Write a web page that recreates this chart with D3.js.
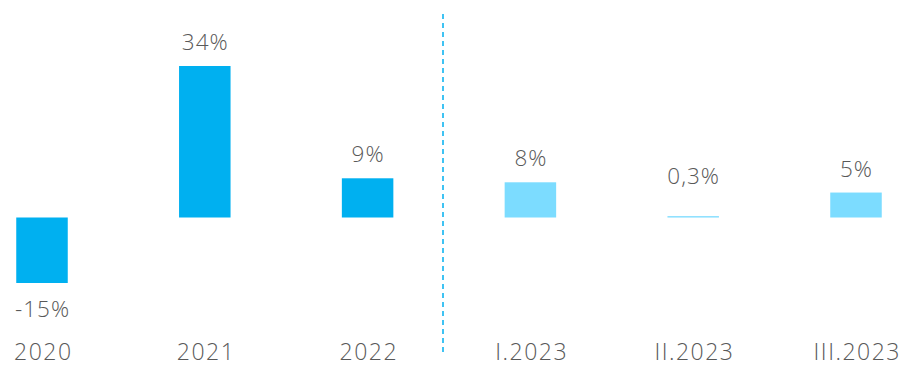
<!DOCTYPE html>
<html>
<head>
<meta charset="utf-8">
<script src="https://cdn.jsdelivr.net/npm/d3@7"></script>
<style>
  body { margin: 0; background: #fff; }
  text { font-family: "Open Sans", "Noto Sans", sans-serif; font-weight: 300; fill: #595959; }
</style>
</head>
<body>
<svg width="901" height="367"></svg>
<script>
// data
var categories = ["2020", "2021", "2022", "I.2023", "II.2023", "III.2023"];
var values = [-14.7, 34, 8.8, 7.9, 0.3, 5.6];
var valueLabels = ["-15%", "34%", "9%", "8%", "0,3%", "5%"];
var forecast = [false, false, false, true, true, true];

var svg = d3.select("svg"),
    width = +svg.attr("width"),
    height = +svg.attr("height");

var x = d3.scalePoint()
    .domain(categories)
    .range([42, 856]);

var y = d3.scaleLinear()
    .domain([0, 34])
    .range([217.5, 66]);

var barWidth = 51.5;

var data = categories.map(function (c, i) {
    return { cat: c, value: values[i], label: valueLabels[i], light: forecast[i] };
});

// bars
svg.selectAll("rect.bar")
    .data(data)
    .enter().append("rect")
    .attr("class", "bar")
    .attr("x", function (d) { return x(d.cat) - barWidth / 2; })
    .attr("width", barWidth)
    .attr("y", function (d) { return y(Math.max(0, d.value)); })
    .attr("height", function (d) { return Math.max(1.3, Math.abs(y(d.value) - y(0))); })
    .attr("fill", function (d) { return d.light ? "#7cdcff" : "#00b0f0"; });

// value labels
svg.selectAll("text.val")
    .data(data)
    .enter().append("text")
    .attr("class", "val")
    .attr("x", function (d) { return x(d.cat) + 0.5; })
    .attr("y", function (d) {
        if (d.value < 0) return y(d.value) + 34;
        return Math.min(y(d.value) - 16, y(0) - 34);
    })
    .attr("text-anchor", "middle")
    .style("font-size", "22.5px")
    .style("letter-spacing", "1px")
    .text(function (d) { return d.label; });

// category labels
svg.append("g")
    .attr("transform", "translate(0,360)")
    .call(d3.axisBottom(x).tickSize(0).tickPadding(0))
    .call(function (g) { g.select(".domain").remove(); })
    .selectAll("text")
    .attr("dy", 0)
    .attr("y", 0)
    .attr("x", 0.75)
    .style("font-size", "23px")
    .style("letter-spacing", "1.5px")
    .style("font-family", "'Open Sans', 'Noto Sans', sans-serif")
    .style("font-weight", 300)
    .attr("fill", "#595959");

// divider between actual years and 2023 quarters
var divX = (x("2022") + x("I.2023")) / 2 - 6;
svg.append("line")
    .attr("x1", divX).attr("x2", divX)
    .attr("y1", 14).attr("y2", 354)
    .attr("stroke", "#00b0f0")
    .attr("stroke-width", 1.5)
    .attr("stroke-dasharray", "5,4");
</script>
</body>
</html>
